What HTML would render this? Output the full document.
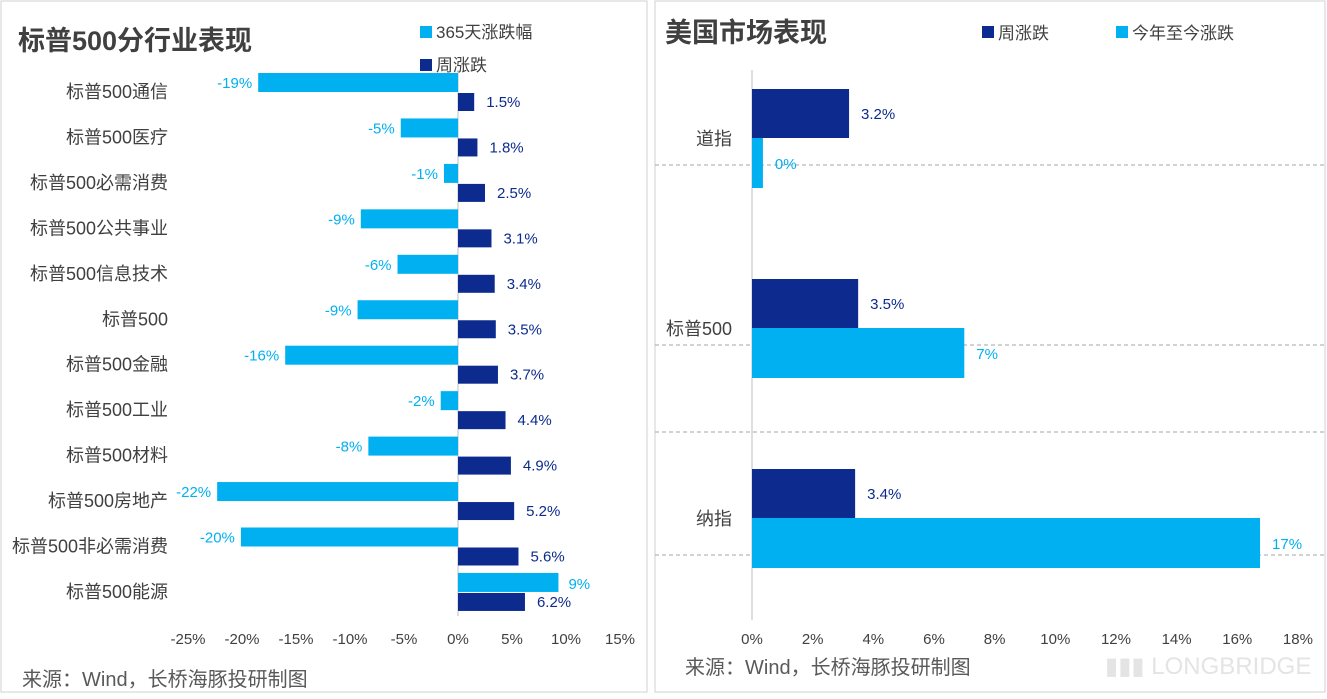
<!DOCTYPE html>
<html><head><meta charset="utf-8">
<style>
html,body{margin:0;padding:0;background:#fff;}
body{width:1327px;height:694px;overflow:hidden;font-family:"Liberation Sans","Noto Sans CJK SC",sans-serif;}
svg text{font-family:"Liberation Sans","Noto Sans CJK SC",sans-serif;}
</style></head>
<body>
<svg id="chart" width="1327" height="694" xmlns="http://www.w3.org/2000/svg">
<rect x="1" y="1" width="646" height="691" fill="#fff" stroke="#d0d0d0"/>
<rect x="655" y="1" width="670" height="691" fill="#fff" stroke="#d0d0d0"/>
<text x="18" y="50" font-size="27" font-weight="bold" fill="#404040">标普500分行业表现</text>
<text x="665" y="42" font-size="27" font-weight="bold" fill="#404040">美国市场表现</text>
<text x="22" y="686" font-size="20" fill="#595959">来源：Wind，长桥海豚投研制图</text>
<text x="685" y="674" font-size="20" fill="#595959">来源：Wind，长桥海豚投研制图</text>
<text x="1105" y="674" font-size="24" fill="#e4e4e4">▮▮▮ LONGBRIDGE</text>
<rect x="420" y="26" width="12" height="12" fill="#00b0f0"/>
<text x="436" y="38" font-size="17" fill="#404040">365天涨跌幅</text>
<rect x="420" y="59" width="12" height="12" fill="#0d2b8e"/>
<text x="436" y="71" font-size="17" fill="#404040">周涨跌</text>
<rect x="982" y="26" width="12" height="12" fill="#0d2b8e"/>
<text x="998" y="39" font-size="17" fill="#404040">周涨跌</text>
<rect x="1116" y="26" width="12" height="12" fill="#00b0f0"/>
<text x="1132" y="39" font-size="17" fill="#404040">今年至今涨跌</text>
<g id="left"></g>
<g id="right"></g>
</svg>
<script>
const sectors=["标普500通信","标普500医疗","标普500必需消费","标普500公共事业","标普500信息技术","标普500","标普500金融","标普500工业","标普500材料","标普500房地产","标普500非必需消费","标普500能源"];
const yearChange=[-18.5,-5.3,-1.3,-9.0,-5.6,-9.3,-16.0,-1.6,-8.3,-22.3,-20.1,9.3];
const yearLabels=["-19%","-5%","-1%","-9%","-6%","-9%","-16%","-2%","-8%","-22%","-20%","9%"];
const weekChange=[1.5,1.8,2.5,3.1,3.4,3.5,3.7,4.4,4.9,5.2,5.6,6.2];
const leftTicks=[-25,-20,-15,-10,-5,0,5,10,15];
const markets=["道指","标普500","纳指"];
const mktWeek=[3.2,3.5,3.4];
const mktYtd=[0.36,7.0,16.75];
const mktWeekLabels=["3.2%","3.5%","3.4%"];
const mktYtdLabels=["0%","7%","17%"];
const rightTicks=[0,2,4,6,8,10,12,14,16,18];

const NS="http://www.w3.org/2000/svg";
function mk(parent,tag,attrs,text){const e=document.createElementNS(NS,tag);for(const k in attrs)e.setAttribute(k,attrs[k]);if(text!==undefined)e.textContent=text;parent.appendChild(e);return e;}
const CY="#00b0f0",NV="#0d2b8e";
// left
const L=document.getElementById('left');
const lx=v=>458+v*10.8;
const ly=i=>70+i*45.45;
mk(L,'line',{x1:458,y1:70,x2:458,y2:616,stroke:'#bfbfbf'});
leftTicks.forEach(t=>{const e=mk(L,'text',{x:lx(t),y:644,'font-size':15,fill:'#404040','text-anchor':'middle'},t+'%');

});
sectors.forEach((s,i)=>{
const y=ly(i);
const lab=mk(L,'text',{x:168,y:y+28,'font-size':18,fill:'#404040','text-anchor':'end'},s);


const v=yearChange[i];
const b=mk(L,'rect',{x:Math.min(lx(v),458),y:y+3,width:Math.abs(lx(v)-458),height:19,fill:CY});


const tl=v<0?mk(L,'text',{x:lx(v)-6,y:y+18,'font-size':15,fill:CY,'text-anchor':'end'},yearLabels[i]):mk(L,'text',{x:lx(v)+10,y:y+19,'font-size':15,fill:CY},yearLabels[i]);


const w=weekChange[i];
const b2=mk(L,'rect',{x:458,y:y+23,width:lx(w)-458,height:18,fill:NV});


const wl=mk(L,'text',{x:lx(w)+12,y:y+37,'font-size':15,fill:NV},w.toFixed(1)+'%');


});
// right
const R=document.getElementById('right');
const rx=v=>752+v*30.33;
const ry=i=>89+i*190;
[165,345,555].forEach(y=>mk(R,'line',{x1:655,y1:y,x2:1327,y2:y,stroke:'#a6a6a6','stroke-dasharray':'4 3'}));
mk(R,'line',{x1:655,y1:432,x2:1327,y2:432,stroke:'#a6a6a6','stroke-dasharray':'4 3'});
mk(R,'line',{x1:752,y1:70,x2:752,y2:620,stroke:'#bfbfbf'});
rightTicks.forEach(t=>{const e=mk(R,'text',{x:rx(t),y:644,'font-size':15,fill:'#404040','text-anchor':'middle'},t+'%');

});
markets.forEach((m,i)=>{
const y=ry(i);
const lab=mk(R,'text',{x:732,y:y+56,'font-size':18,fill:'#404040','text-anchor':'end'},m);


const b=mk(R,'rect',{x:752,y:y,width:rx(mktWeek[i])-752,height:49,fill:NV});


const t1=mk(R,'text',{x:rx(mktWeek[i])+12,y:y+30,'font-size':15,fill:NV},mktWeekLabels[i]);


const b2=mk(R,'rect',{x:752,y:y+49,width:rx(mktYtd[i])-752,height:50,fill:CY});


const t2=mk(R,'text',{x:rx(mktYtd[i])+12,y:y+80,'font-size':15,fill:CY},mktYtdLabels[i]);


});
</script>
</body></html>
